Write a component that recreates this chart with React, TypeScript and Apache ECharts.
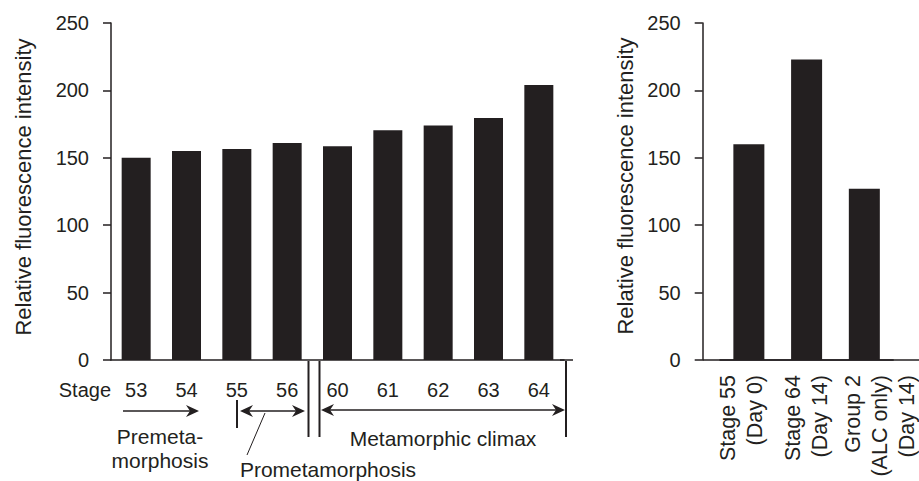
import React, { useEffect, useRef } from "react";
import * as echarts from "echarts";

const stages = ["53", "54", "55", "56", "60", "61", "62", "63", "64"];
const stageValues = [150, 155, 156.5, 161, 158.5, 170.5, 174, 179.5, 204];
const groupLabels = ["Stage 55\n(Day 0)", "Stage 64\n(Day 14)", "Group 2\n(ALC only)\n(Day 14)"];
const groupValues = [160, 223, 127];
const yAxisTitle = "Relative fluorescence intensity";
const stageWord = "Stage";
const phaseNames = ["Premeta-\nmorphosis", "Prometamorphosis", "Metamorphic climax"];

const C = "#231f20";
const FONT = "'Liberation Sans', Arial, Helvetica, sans-serif";

function head(x: number, y: number, dir: number) {
  return {
    type: "polygon",
    shape: {
      points: [
        [x, y],
        [x - dir * 13, y - 6],
        [x - dir * 9, y],
        [x - dir * 13, y + 6],
      ],
    },
    style: { fill: C },
  };
}
function seg(x1: number, y1: number, x2: number, y2: number, w = 1.5) {
  return { type: "line", shape: { x1, y1, x2, y2 }, style: { stroke: C, lineWidth: w } };
}
function txt(x: number, y: number, text: string, align = "center", size = 21, lh = 24, rot = 0) {
  return {
    type: "text",
    x,
    y,
    rotation: rot,
    style: {
      text,
      textAlign: align,
      textVerticalAlign: "middle",
      fontSize: size,
      fontFamily: FONT,
      fill: C,
      lineHeight: lh,
    },
  };
}

export default function App() {
  const ref = useRef<HTMLDivElement>(null);
  useEffect(() => {
    document.body.style.margin = "0";
    const chart = echarts.init(ref.current!, undefined, { renderer: "svg" });
    const yAxisBase = {
      type: "value",
      min: 0,
      max: 250,
      interval: 50,
      splitLine: { show: false },
      axisLine: { show: true, lineStyle: { color: C, width: 1.5 } },
      axisTick: { show: true, length: 8, lineStyle: { color: C, width: 1.5 } },
      axisLabel: { color: C, fontSize: 20, fontFamily: FONT, margin: 22 },
    };
    chart.setOption({
      animation: false,
      grid: [
        { left: 111, top: 23, width: 453, height: 337 },
        { left: 720, top: 23, width: 184.2, height: 337 },
      ],
      xAxis: [
        {
          type: "category",
          gridIndex: 0,
          data: stages,
          axisLine: { show: true, onZero: false, lineStyle: { color: C, width: 1.5 } },
          axisTick: { show: false },
          axisLabel: { color: C, fontSize: 20, fontFamily: FONT, margin: 20, interval: 0 },
        },
        {
          type: "category",
          gridIndex: 1,
          data: groupLabels,
          axisLine: { show: true, onZero: false, lineStyle: { color: C, width: 1.5 } },
          axisTick: { show: false },
          axisLabel: {
            color: C,
            fontSize: 21,
            fontFamily: FONT,
            margin: 15,
            rotate: 90,
            interval: 0,
            lineHeight: 26,
            formatter: (value: string, idx: number) => {
              const lines = value.split("\n").map((l) => `{a|${l}}`);
              if (idx === 0) lines.push("{s| }");
              if (idx === 2) lines.unshift("{t| }");
              return lines.join("\n");
            },
            rich: {
              a: { fontSize: 21.5, lineHeight: 27, fontFamily: FONT, color: C },
              s: { fontSize: 4, lineHeight: 14 },
              t: { fontSize: 4, lineHeight: 32 },
            },
          },
        },
      ],
      yAxis: [
        { ...yAxisBase, gridIndex: 0 },
        { ...yAxisBase, gridIndex: 1, offset: 17.3 },
      ],
      series: [
        {
          type: "bar",
          xAxisIndex: 0,
          yAxisIndex: 0,
          data: stageValues,
          barWidth: 29,
          itemStyle: { color: C },
        },
        {
          type: "bar",
          xAxisIndex: 1,
          yAxisIndex: 1,
          data: groupValues,
          barWidth: 31,
          itemStyle: { color: C },
        },
      ],
      graphic: [
        txt(23, 187, yAxisTitle, "center", 22, 24, Math.PI / 2),
        txt(625, 186, yAxisTitle, "center", 22, 24, Math.PI / 2),
        // axis line extensions
        seg(560, 360, 573, 360),
        seg(702.7, 360, 919, 360),
        txt(111, 390, stageWord, "right", 20, 24),
        // premetamorphosis arrow
        seg(123, 411, 192, 411),
        head(199, 411, 1),
        // prometamorphosis
        seg(237, 400, 237, 428, 2),
        seg(246, 411, 299, 411),
        head(240, 411, -1),
        head(305, 411, 1),
        seg(308.5, 361, 308.5, 437, 2),
        seg(319.5, 361, 319.5, 437, 2),
        // climax
        seg(327, 410, 559, 410),
        head(321, 410, -1),
        head(565, 410, 1),
        seg(566, 361, 566, 437, 2),
        // leader
        seg(265, 413, 247, 455, 1),
        txt(160, 448, phaseNames[0], "center", 21, 24),
        txt(328, 469, phaseNames[1], "center", 21, 24),
        txt(443, 438, phaseNames[2], "center", 21, 24),
      ],
    });
    return () => chart.dispose();
  }, []);
  return <div ref={ref} style={{ width: 919, height: 481 }} />;
}
